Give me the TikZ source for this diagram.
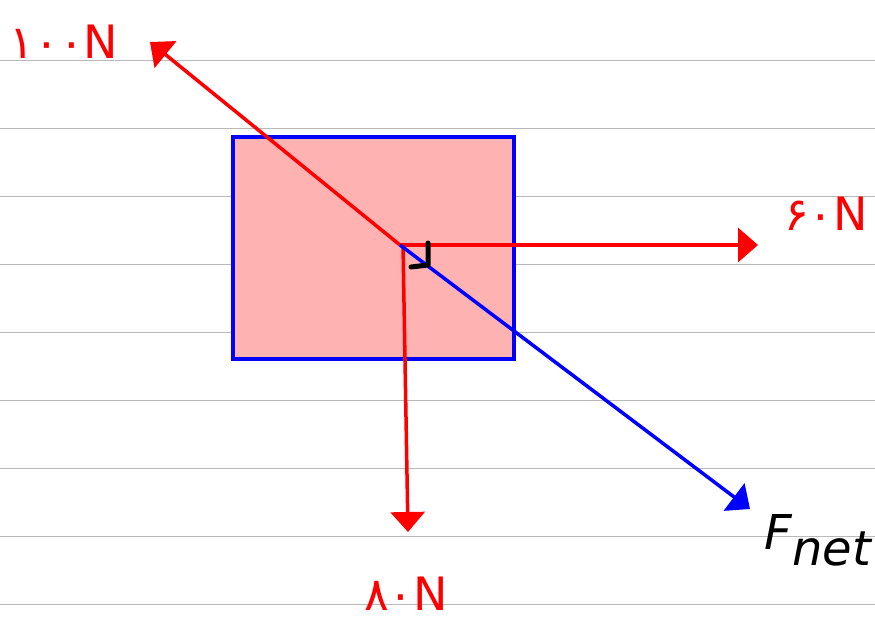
\documentclass[tikz,border=0pt]{standalone}
\usepackage{fontspec}
\setmainfont{DejaVu Sans}
\usetikzlibrary{arrows.meta}

\definecolor{boxfill}{RGB}{255,178,178}
\definecolor{ruled}{RGB}{185,185,185}
\definecolor{penred}{RGB}{255,0,0}
\definecolor{penblue}{RGB}{0,0,255}

\begin{document}
\begin{tikzpicture}[
    x=1pt, y=-1pt,
    force/.style={draw=penred, line width=3.5pt, -{Triangle[length=20pt,width=34pt]}},
    every node/.style={inner sep=0pt, text=penred, font=\fontsize{46}{46}\selectfont}
]

\def\ox{400}
\def\oy{245}
\def\rs{68}

\useasboundingbox (0,0) rectangle (875,630);

% ruled paper
\foreach \k in {0,...,8}
  \draw[ruled, line width=1pt] (0,{60+\k*\rs}) -- (875,{60+\k*\rs});

% the block
\node[draw=penblue, fill=boxfill, line width=3.5pt, minimum width=281pt,
      minimum height=222pt, anchor=north west] (block) at (231,135) {};

% point of application and arrow tips
\coordinate (o)    at (\ox,\oy);
\coordinate (o80)  at (\ox+3,\oy);
\coordinate (t100) at (150,42);
\coordinate (t60)  at (758,245);
\coordinate (t80)  at (408,532);
\coordinate (tnet) at (750,509);

% forces
\draw[force] (o) -- (t100);
\draw[force] (o) -- (t60);
\draw[force] (o80) -- (t80);
\draw[force, draw=penblue] (o) -- (tnet);

% right angle mark
\draw[black, line width=5pt, line cap=round, line join=round]
  (428,243) -- (428,265) -- (411,267);

% labels
\node (l100) at (64,42)   {۱۰۰N};
\node (l60)  at (826,214) {۶۰N};
\node (l80)  at (406,594) {۸۰N};
\node[text=black, font=\fontsize{48}{48}\selectfont\itshape] (lnet) at (818,540)
  {F\raisebox{-16pt}{net}};

\end{tikzpicture}
\end{document}
